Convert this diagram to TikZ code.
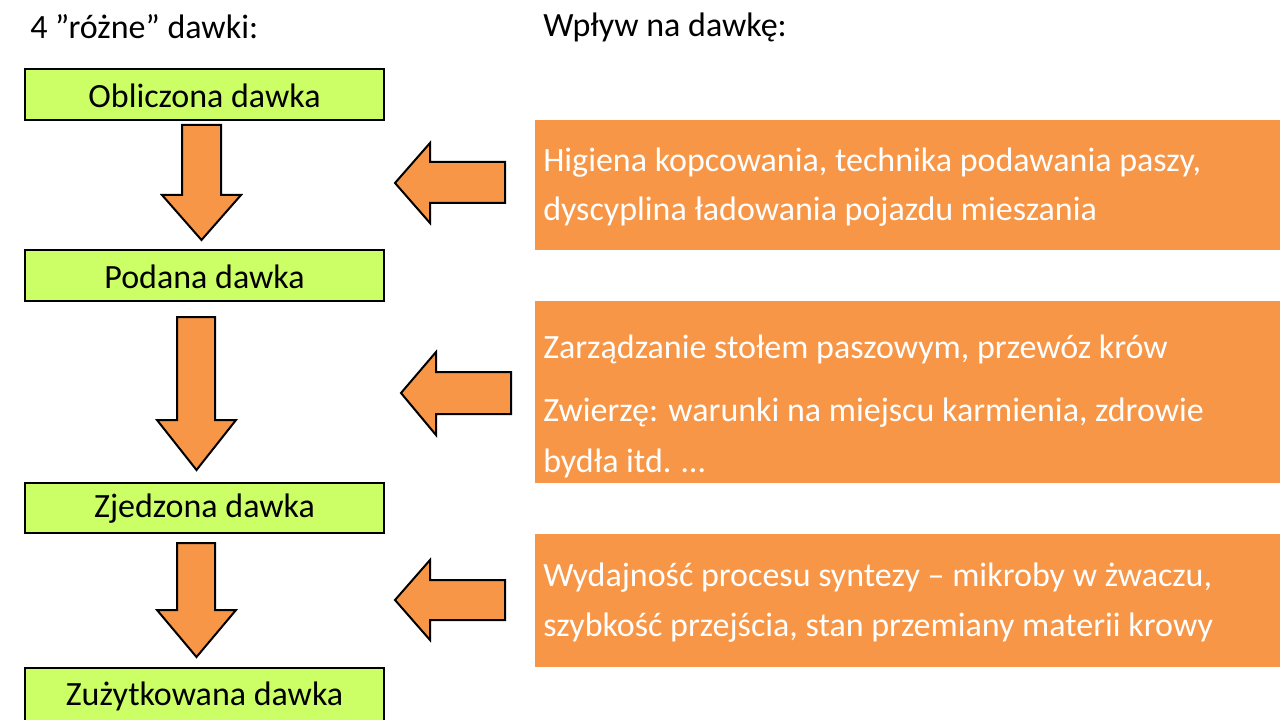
\documentclass[tikz,border=0pt]{standalone}
\usepackage{fontspec}
\setmainfont{Carlito}
\definecolor{gr}{HTML}{CCFF66}
\definecolor{orn}{HTML}{F79646}
\tikzset{gbox/.style={draw=black,line width=1.5pt,fill=gr},
arr/.style={draw=black,line width=1.5pt,fill=orn,line join=miter},
txt/.style={anchor=west,inner sep=0pt,font=\fontsize{25.5pt}{30pt}\selectfont},
wt/.style={txt,text=white}}
\begin{document}
\begin{tikzpicture}[x=0.75pt,y=-0.75pt]
\useasboundingbox (0,0) rectangle (1280,720);
\node[txt] (h1) at (30,27) {4 \char34różne\char34{} dawki:};
\node[txt] (h2) at (543,27) {Wpływ na dawkę:};
\foreach \n/\a/\b/\t in {b1/69/120/Obliczona dawka,b2/250/301/Podana dawka,b3/483/533/Zjedzona dawka,b4/668/722/Zużytkowana dawka}{
 \draw[gbox] (25,\a) rectangle (384,\b);
 \node[txt,anchor=center] (\n) at (204.5,{(\a+\b)/2+1}) {\t};
}
% down arrows
\draw[arr] (182,125)--(221,125)--(221,195)--(241,195)--(201.5,240)--(162,195)--(182,195)--cycle;
\draw[arr] (177,317)--(215,317)--(215,420)--(236,420)--(196.5,470)--(157,420)--(177,420)--cycle;
\draw[arr] (177,543)--(215,543)--(215,610)--(236,610)--(196.5,657)--(157,610)--(177,610)--cycle;
% left arrows
\draw[arr] (505,162)--(430,162)--(430,143)--(395,183)--(430,223)--(430,203)--(505,203)--cycle;
\draw[arr] (511,372)--(436,372)--(436,352)--(401,393)--(436,435)--(436,414)--(511,414)--cycle;
\draw[arr] (505,580)--(430,580)--(430,560)--(395,600)--(430,640)--(430,620)--(505,620)--cycle;
% orange boxes
\fill[orn] (535,120) rectangle (1280,250);
\fill[orn] (535,301) rectangle (1280,483);
\fill[orn] (535,534) rectangle (1280,667);
\node[wt] (t1) at (543,163) {Higiena kopcowania, technika podawania paszy,};
\node[wt] (t2) at (543,212) {dyscyplina ładowania pojazdu mieszania};
\node[wt] (t3) at (543,349) {Zarządzanie stołem paszowym, przewóz krów};
\node[wt] (t4) at (543,413) {Zwierzę: warunki na miejscu karmienia, zdrowie};
\node[wt] (t5) at (543,463) {bydła itd. …};
\node[wt] (t6) at (543,578) {Wydajność procesu syntezy – mikroby w żwaczu,};
\node[wt] (t7) at (543,628) {szybkość przejścia, stan przemiany materii krowy};
\end{tikzpicture}
\end{document}
